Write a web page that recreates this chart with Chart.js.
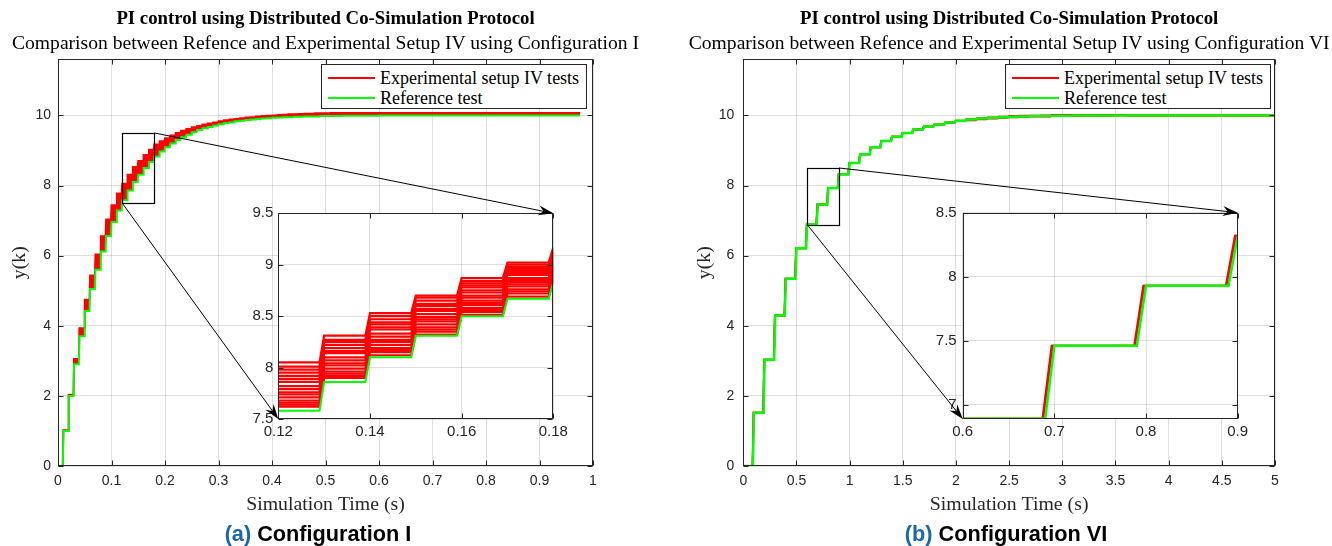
<!DOCTYPE html>
<html><head><meta charset="utf-8">
<script src="https://cdn.jsdelivr.net/npm/chart.js@4.4.1/dist/chart.umd.min.js"></script>
<style>
html,body{margin:0;padding:0;background:#fff;}
#fig{position:relative;width:1332px;height:546px;overflow:hidden;background:#fff;}
#fig canvas{position:absolute;top:0;}
.t{position:absolute;white-space:nowrap;transform:translateX(-50%);font-family:'Liberation Serif','Times New Roman',serif;color:#000;}
.ttl{font-weight:bold;font-size:18.8px;line-height:22px;top:7px;}
.sub{font-size:19.6px;line-height:22px;top:32px;}
.cap{font-family:'Liberation Sans',Arial,sans-serif;font-weight:bold;font-size:21.7px;line-height:24px;top:522px;}
.cap span{color:#1a66a8;}
.lg{position:absolute;border:1px solid #262626;background:#fff;box-sizing:border-box;}
.lg .ln{position:absolute;height:2px;}
.lg .tx{position:absolute;font-family:'Liberation Serif','Times New Roman',serif;font-size:18px;line-height:20px;color:#000;white-space:nowrap;}
</style></head><body>
<div id="fig">
  <canvas id="mainA" width="666" height="546" style="left:0;width:666px;height:546px"></canvas>
  <canvas id="insetA" width="666" height="546" style="left:0;width:666px;height:546px"></canvas>
  <canvas id="mainB" width="666" height="546" style="left:666px;width:666px;height:546px"></canvas>
  <canvas id="insetB" width="666" height="546" style="left:666px;width:666px;height:546px"></canvas>
</div>
<script>
// ---------------- DATA ----------------
const seriesNames = ['Experimental setup IV tests', 'Reference test'];
const seriesColors = ['#ff0000', '#00ff00'];

// Configuration I: sample period 0.01 s, values per step (t = k*0.01)
const refA = [0, 1.00, 2.00, 2.90, 3.70, 4.42, 5.05, 5.60, 6.12, 6.56,
  6.96, 7.29, 7.58, 7.86, 8.10, 8.31, 8.50, 8.67, 8.83, 8.97,
  9.09, 9.20, 9.30, 9.38, 9.45, 9.52, 9.58, 9.63, 9.67, 9.71,
  9.75, 9.78, 9.80, 9.83, 9.85, 9.87, 9.88, 9.90, 9.91, 9.92,
  9.93, 9.94, 9.95, 9.95, 9.96, 9.96, 9.97, 9.97, 9.97, 9.98,
  9.98, 9.98, 9.98, 9.99, 9.99, 9.99, 9.99, 9.99, 9.99, 9.99,
  10.00, 10.00, 10.00, 10.00, 10.00, 10.00, 10.00, 10.00, 10.00, 10.00,
  10.00, 10.00, 10.00, 10.00, 10.00, 10.00, 10.00, 10.00, 10.00, 10.00,
  10.00, 10.00, 10.00, 10.00, 10.00, 10.00, 10.00, 10.00, 10.00, 10.00,
  10.00, 10.00, 10.00, 10.00, 10.00, 10.00, 10.00, 10.00];
// upper edge of the band of experimental test runs
const testTopA = [0, 1.02, 2.03, 3.05, 3.93, 4.74, 5.43, 6.03, 6.55, 7.03,
  7.44, 7.77, 8.05, 8.31, 8.53, 8.70, 8.87, 9.02, 9.17, 9.26,
  9.35, 9.43, 9.50, 9.56, 9.61, 9.66, 9.70, 9.74, 9.77, 9.80,
  9.83, 9.86, 9.88, 9.90, 9.92, 9.94, 9.95, 9.97, 9.98, 9.99,
  10.00, 10.01, 10.02, 10.03, 10.03, 10.04, 10.05, 10.05, 10.06, 10.06,
  10.06, 10.07, 10.07, 10.07, 10.07, 10.07, 10.07, 10.07, 10.07, 10.07,
  10.07, 10.07, 10.07, 10.07, 10.07, 10.07, 10.07, 10.07, 10.07, 10.07,
  10.07, 10.07, 10.07, 10.07, 10.07, 10.07, 10.07, 10.07, 10.07, 10.07,
  10.07, 10.07, 10.07, 10.07, 10.07, 10.07, 10.07, 10.07, 10.07, 10.07,
  10.07, 10.07, 10.07, 10.07, 10.07, 10.07, 10.07, 10.07];
// individual test runs in the zoomed window, steps t = 0.12 ... 0.18
const runsA = [
  [8.05, 8.31, 8.53, 8.70, 8.87, 9.02, 9.17],
  [8.01, 8.27, 8.50, 8.68, 8.84, 9.00, 9.14],
  [7.98, 8.25, 8.47, 8.65, 8.82, 8.98, 9.12],
  [7.95, 8.22, 8.44, 8.62, 8.80, 8.96, 9.10],
  [7.92, 8.19, 8.42, 8.60, 8.78, 8.94, 9.08],
  [7.89, 8.16, 8.39, 8.57, 8.75, 8.92, 9.06],
  [7.86, 8.14, 8.37, 8.55, 8.73, 8.90, 9.04],
  [7.82, 8.10, 8.33, 8.52, 8.70, 8.87, 9.02],
  [7.79, 8.07, 8.30, 8.49, 8.68, 8.85, 9.00],
  [7.76, 8.04, 8.27, 8.47, 8.65, 8.83, 8.98],
  [7.74, 8.02, 8.25, 8.45, 8.63, 8.81, 8.96],
  [7.71, 7.99, 8.22, 8.42, 8.61, 8.79, 8.94],
  [7.68, 7.96, 8.19, 8.39, 8.58, 8.76, 8.92],
  [7.66, 7.94, 8.17, 8.37, 8.56, 8.74, 8.90],
  [7.64, 7.92, 8.15, 8.35, 8.54, 8.72, 8.88],
  [7.62, 7.90, 8.12, 8.32, 8.51, 8.69, 8.85]];
const runsAStart = 0.12;

// Configuration VI: sample period 0.1 s (t = k*0.1)
const refB = [0, 1.52, 3.03, 4.29, 5.34, 6.21, 6.89, 7.46, 7.93, 8.32,
  8.64, 8.89, 9.09, 9.27, 9.39, 9.50, 9.60, 9.68, 9.74, 9.80,
  9.85, 9.88, 9.91, 9.93, 9.95, 9.96, 9.97, 9.98, 9.98, 9.99,
  9.99, 10.00, 10.00, 10.00, 10.00, 10.00, 10.00, 10.00, 10.00, 10.00,
  10.00, 10.00, 10.00, 10.00, 10.00, 10.00, 10.00, 10.00, 10.00, 10.00, 10.00];
const testB1 = [0, 1.52, 3.03, 4.29, 5.34, 6.21, 6.89, 7.46, 7.93, 8.32,
  8.64, 8.89, 9.09, 9.27, 9.39, 9.50, 9.60, 9.68, 9.74, 9.79,
  9.84, 9.86, 9.89, 9.91, 9.93, 9.95, 9.96, 9.97, 9.97, 9.98,
  9.98, 9.98, 9.99, 9.99, 9.99, 10.00, 10.00, 10.00, 10.00, 10.00,
  10.00, 10.00, 10.00, 10.00, 10.00, 10.00, 10.00, 10.00, 10.00, 10.00, 10.00];
const testB2 = [0, 1.52, 3.03, 4.29, 5.34, 6.21, 6.89, 7.46, 7.93, 8.32,
  8.64, 8.89, 9.09, 9.27, 9.39, 9.50, 9.60, 9.68, 9.74, 9.80,
  9.85, 9.89, 9.92, 9.94, 9.96, 9.98, 9.99, 9.99, 10.00, 10.01,
  10.01, 10.01, 10.01, 10.01, 10.01, 10.01, 10.00, 10.00, 10.00, 10.00,
  10.00, 10.00, 10.00, 10.00, 10.00, 10.00, 10.00, 10.00, 10.00, 10.00, 10.00];

// axes
const xTicksA = [0, 0.1, 0.2, 0.3, 0.4, 0.5, 0.6, 0.7, 0.8, 0.9, 1];
const xLabelsA = ['0', '0.1', '0.2', '0.3', '0.4', '0.5', '0.6', '0.7', '0.8', '0.9', '1'];
const xTicksB = [0, 0.5, 1, 1.5, 2, 2.5, 3, 3.5, 4, 4.5, 5];
const xLabelsB = ['0', '0.5', '1', '1.5', '2', '2.5', '3', '3.5', '4', '4.5', '5'];
const yTicksMain = [0, 2, 4, 6, 8, 10];
const yLabelsMain = ['0', '2', '4', '6', '8', '10'];
const yRangeMain = [0, 11.6];
const zoomXA = [0.12, 0.18], zoomYA = [7.5, 9.5];
const inXTicksA = [0.12, 0.14, 0.16, 0.18], inXLabelsA = ['0.12', '0.14', '0.16', '0.18'];
const inYTicksA = [7.5, 8, 8.5, 9, 9.5], inYLabelsA = ['7.5', '8', '8.5', '9', '9.5'];
const zoomXB = [0.6, 0.9], zoomYB = [6.888, 8.5];
const inXTicksB = [0.6, 0.7, 0.8, 0.9], inXLabelsB = ['0.6', '0.7', '0.8', '0.9'];
const inYTicksB = [7, 7.5, 8, 8.5], inYLabelsB = ['7', '7.5', '8', '8.5'];
const titleText = 'PI control using Distributed Co-Simulation Protocol';
const subTextA = 'Comparison between Refence and Experimental Setup IV using Configuration I';
const subTextB = 'Comparison between Refence and Experimental Setup IV using Configuration VI';
const xTitle = 'Simulation Time (s)', yTitle = 'y(k)';

// ---------------- RENDER ----------------
const W = 666, H = 546;
const serif = "'Liberation Serif','Times New Roman',serif";
const sans = "'Liberation Sans',Arial,Helvetica,sans-serif";
const axisGray = '#262626', gridGray = 'rgba(38,38,38,0.15)';
const RED = seriesColors[0], GREEN = seriesColors[1];

function stepPoints(vals, t0, dt, rise, tEnd, shift) {
  shift = shift || 0;
  const pts = [];
  for (let k = 0; k < vals.length; k++) {
    const s = k === 0 ? t0 : t0 + k * dt + shift;
    const e = k === vals.length - 1 ? tEnd : t0 + (k + 1) * dt - rise + shift;
    pts.push({x: s, y: vals[k]}, {x: e, y: vals[k]});
  }
  return pts;
}

function axesPlugin(white, L) {
  return {
    id: 'matlabAxes',
    beforeDraw(chart) {
      if (!white) return;
      const a = chart.chartArea, ctx = chart.ctx;
      ctx.save(); ctx.fillStyle = '#fff';
      ctx.fillRect(a.left, a.top, a.right - a.left, a.bottom - a.top); ctx.restore();
    },
    afterDraw(chart) {
      const {ctx, chartArea: a, scales: {x, y}} = chart;
      ctx.save();
      ctx.strokeStyle = axisGray; ctx.lineWidth = 1;
      const l = Math.round(a.left) + 0.5, r = Math.round(a.right) - 0.5;
      const t = Math.round(a.top) + 0.5, b = Math.round(a.bottom) - 0.5;
      ctx.beginPath();
      x.ticks.forEach(tk => { const p = Math.round(x.getPixelForValue(tk.value)) + 0.5;
        ctx.moveTo(p, b); ctx.lineTo(p, b - L); ctx.moveTo(p, t); ctx.lineTo(p, t + L); });
      y.ticks.forEach(tk => { const p = Math.round(y.getPixelForValue(tk.value)) + 0.5;
        ctx.moveTo(l, p); ctx.lineTo(l + L, p); ctx.moveTo(r, p); ctx.lineTo(r - L, p); });
      ctx.stroke();
      ctx.strokeRect(l, t, r - l, b - t);
      ctx.restore();
    }
  };
}

function zoomRectPlugin(zx, zy) {
  return {
    id: 'zoomRect',
    afterDatasetsDraw(chart) {
      const {ctx, scales: {x, y}} = chart;
      const x0 = Math.round(x.getPixelForValue(zx[0])) + 0.5, x1 = Math.round(x.getPixelForValue(zx[1])) + 0.5;
      const y0 = Math.round(y.getPixelForValue(zy[1])) + 0.5, y1 = Math.round(y.getPixelForValue(zy[0])) + 0.5;
      ctx.save(); ctx.strokeStyle = '#000'; ctx.lineWidth = 1.2;
      ctx.strokeRect(x0, y0, x1 - x0, y1 - y0); ctx.restore();
    }
  };
}

function drawArrow(ctx, x0, y0, x1, y1) {
  const ang = Math.atan2(y1 - y0, x1 - x0);
  const L = 15, Wd = 5, N = 10;
  ctx.beginPath(); ctx.moveTo(x0, y0); ctx.lineTo(x1 - Math.cos(ang) * 4, y1 - Math.sin(ang) * 4); ctx.stroke();
  const c = Math.cos(ang), s = Math.sin(ang);
  ctx.beginPath();
  ctx.moveTo(x1, y1);
  ctx.lineTo(x1 - L * c + Wd * s, y1 - L * s - Wd * c);
  ctx.lineTo(x1 - N * c, y1 - N * s);
  ctx.lineTo(x1 - L * c - Wd * s, y1 - L * s + Wd * c);
  ctx.closePath(); ctx.fill();
}

function arrowsPlugin(getMain, zx, zy) {
  return {
    id: 'zoomArrows',
    afterDraw(chart) {
      const m = getMain(); if (!m) return;
      const {x, y} = m.scales; const a = chart.chartArea, ctx = chart.ctx;
      ctx.save(); ctx.strokeStyle = '#000'; ctx.fillStyle = '#000'; ctx.lineWidth = 1;
      drawArrow(ctx, x.getPixelForValue(zx[1]), y.getPixelForValue(zy[1]), a.right, a.top);
      drawArrow(ctx, x.getPixelForValue(zx[0]), y.getPixelForValue(zy[0]), a.left, a.bottom);
      ctx.restore();
    }
  };
}

function fixArea(chart, pad, target) {
  for (let i = 0; i < 2; i++) {
    const a = chart.chartArea;
    pad.left += target.left - a.left;
    pad.top += target.top - a.top;
    pad.right += a.right - target.right;
    pad.bottom += a.bottom - target.bottom;
    chart.update();
  }
}

function buildChart(id, datasets, c, plugins) {
  const pad = {left: c.area.left - c.yAxisW, top: c.area.top, right: W - c.area.right, bottom: H - c.area.bottom - c.xAxisH};
  const chart = new Chart(document.getElementById(id), {
    type: 'line',
    data: {datasets},
    options: {
      responsive: false, animation: false, devicePixelRatio: 1, events: [],
      layout: {padding: pad},
      plugins: {legend: {display: false}, tooltip: {enabled: false}},
      elements: {point: {radius: 0, hoverRadius: 0}, line: {tension: 0, borderJoinStyle: 'miter', borderCapStyle: 'butt'}},
      scales: {
        x: {type: 'linear', bounds: 'data', min: c.xr[0], max: c.xr[1],
          afterBuildTicks: s => { s.ticks = c.xTicks.map(v => ({value: v})); },
          afterFit: s => { s.height = c.xAxisH; },
          ticks: {autoSkip: false, maxRotation: 0, minRotation: 0, padding: c.xPad, color: axisGray,
            font: {family: sans, size: c.fs}, callback: (v, i) => c.xLabels[i]},
          grid: {color: gridGray, lineWidth: 1, drawTicks: false}, border: {display: false},
          title: c.xTitle ? {display: true, text: c.xTitle, color: axisGray, font: {family: serif, size: 19.8},
            padding: {top: 0, bottom: c.xTitlePad}} : {display: false}},
        y: {type: 'linear', bounds: 'data', min: c.yr[0], max: c.yr[1],
          afterBuildTicks: s => { s.ticks = c.yTicks.map(v => ({value: v})); },
          afterFit: s => { s.width = c.yAxisW; },
          ticks: {autoSkip: false, padding: c.yPad, color: axisGray,
            font: {family: sans, size: c.fs}, callback: (v, i) => c.yLabels[i]},
          grid: {color: gridGray, lineWidth: 1, drawTicks: false}, border: {display: false},
          title: c.yTitle ? {display: true, text: c.yTitle, color: axisGray, font: {family: serif, size: 19.8},
            padding: {top: c.yTitlePad, bottom: 0}} : {display: false}}
      }
    },
    plugins: plugins
  });
  fixArea(chart, pad, c.area);
  return chart;
}

const charts = {};
const areaMainA = {left: 58, top: 59.3, right: 593, bottom: 466};
const areaMainB = {left: 77.3, top: 59.3, right: 609, bottom: 466};
const areaInA = {left: 278.3, top: 213.3, right: 553.3, bottom: 419};
const areaInB = {left: 296.7, top: 212.7, right: 571.7, bottom: 419};

// ---- Configuration I ----  (order 0 = drawn on top)
const refPtsA = stepPoints(refA, 0, 0.01, 0.001, 0.976);
charts.mainA = buildChart('mainA', [
  {label: seriesNames[0], order: 1, data: stepPoints(testTopA, 0, 0.01, 0.001, 0.976), borderColor: RED, backgroundColor: RED, borderWidth: 2, fill: '+1'},
  {label: seriesNames[1], order: 0, data: refPtsA, borderColor: GREEN, borderWidth: 2, fill: false}
], {area: areaMainA, yAxisW: 58, xAxisH: 80, xr: [0, 1], yr: yRangeMain, xTicks: xTicksA, xLabels: xLabelsA,
    yTicks: yTicksMain, yLabels: yLabelsMain, fs: 14, xPad: 7, yPad: 7, xTitle: xTitle, xTitlePad: 29, yTitle: yTitle, yTitlePad: 8},
  [axesPlugin(false, 5), zoomRectPlugin(zoomXA, zoomYA)]);

const insetDsA = runsA.map(r => ({label: seriesNames[0], order: 1, data: stepPoints(r, runsAStart, 0.01, 0.001, 0.19), borderColor: RED, borderWidth: 2.2, fill: false}));
insetDsA.push({label: seriesNames[1], order: 0, data: refPtsA, borderColor: GREEN, borderWidth: 2, fill: false});
charts.insetA = buildChart('insetA', insetDsA,
  {area: areaInA, yAxisW: 50, xAxisH: 30, xr: zoomXA, yr: zoomYA, xTicks: inXTicksA, xLabels: inXLabelsA,
   yTicks: inYTicksA, yLabels: inYLabelsA, fs: 15, xPad: 4, yPad: 5},
  [axesPlugin(true, 5), arrowsPlugin(() => charts.mainA, zoomXA, zoomYA)]);

// ---- Configuration VI ----
const dsB = () => [
  {label: seriesNames[0], order: 1, data: stepPoints(testB1, 0, 0.1, 0.01, 5, -0.003), borderColor: RED, borderWidth: 2, fill: false},
  {label: seriesNames[0], order: 1, data: stepPoints(testB2, 0, 0.1, 0.01, 5, -0.002), borderColor: RED, borderWidth: 2, fill: false},
  {label: seriesNames[1], order: 0, data: stepPoints(refB, 0, 0.1, 0.01, 5), borderColor: GREEN, borderWidth: 2.5, fill: false}
];
charts.mainB = buildChart('mainB', dsB(),
  {area: areaMainB, yAxisW: 77.3, xAxisH: 80, xr: [0, 5], yr: yRangeMain, xTicks: xTicksB, xLabels: xLabelsB,
   yTicks: yTicksMain, yLabels: yLabelsMain, fs: 14, xPad: 7, yPad: 9, xTitle: xTitle, xTitlePad: 29, yTitle: yTitle, yTitlePad: 27},
  [axesPlugin(false, 5), zoomRectPlugin(zoomXB, zoomYB)]);
charts.insetB = buildChart('insetB', dsB(),
  {area: areaInB, yAxisW: 50, xAxisH: 30, xr: zoomXB, yr: zoomYB, xTicks: inXTicksB, xLabels: inXLabelsB,
   yTicks: inYTicksB, yLabels: inYLabelsB, fs: 15, xPad: 4, yPad: 6},
  [axesPlugin(true, 5), arrowsPlugin(() => charts.mainB, zoomXB, zoomYB)]);

// ---- text: titles, legends, captions ----
const fig = document.getElementById('fig');
function addText(cls, html, cx) {
  const d = document.createElement('div'); d.className = 't ' + cls; d.innerHTML = html;
  d.style.left = cx + 'px'; fig.appendChild(d);
}
function addLegend(left, top) {
  const box = document.createElement('div'); box.className = 'lg';
  Object.assign(box.style, {left: left + 'px', top: top + 'px', width: '266px', height: '45px'});
  seriesNames.forEach((nm, i) => {
    const cy = i === 0 ? 13 : 32.5;
    const ln = document.createElement('div'); ln.className = 'ln';
    Object.assign(ln.style, {left: '6px', width: '47px', top: (cy - 1) + 'px', background: seriesColors[i]});
    const tx = document.createElement('div'); tx.className = 'tx'; tx.textContent = nm;
    Object.assign(tx.style, {left: '58px', top: (cy - 10) + 'px'});
    box.appendChild(ln); box.appendChild(tx);
  });
  fig.appendChild(box);
}
const cA = (areaMainA.left + areaMainA.right) / 2, cB = 666 + (areaMainB.left + areaMainB.right) / 2;
addText('ttl', titleText, cA); addText('sub', subTextA, cA);
addText('ttl', titleText, cB); addText('sub', subTextB, cB);
addLegend(321, 64); addLegend(1005, 64);
addText('cap', '<span>(a)</span> Configuration I', 318);
addText('cap', '<span>(b)</span> Configuration VI', 1006);
</script>
</body></html>
